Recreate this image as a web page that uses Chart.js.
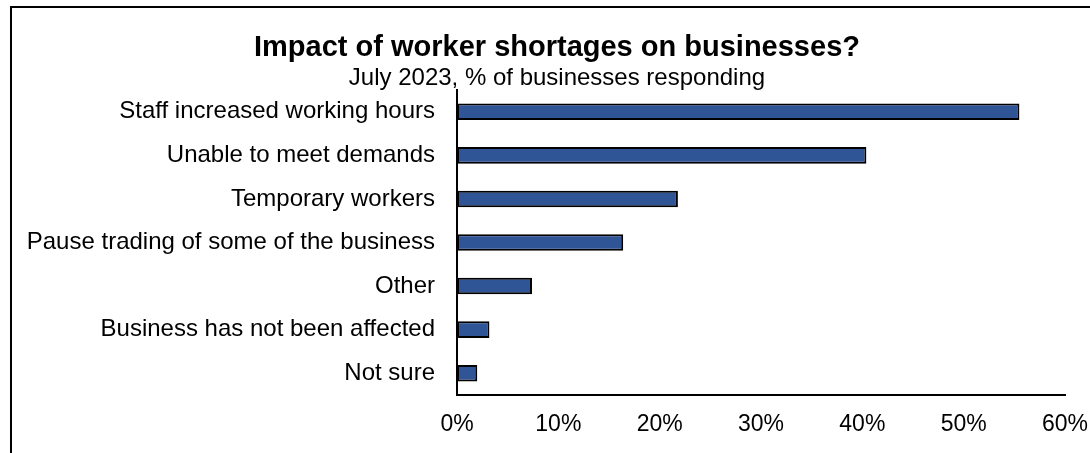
<!DOCTYPE html>
<html>
<head>
<meta charset="utf-8">
<title>Impact of worker shortages on businesses</title>
<script src="https://cdn.jsdelivr.net/npm/chart.js@4"></script>
<style>
  html, body { margin: 0; padding: 0; background: #fff; }
  #wrap { position: relative; width: 1090px; height: 453px; }
</style>
</head>
<body>
<div id="wrap"><canvas id="grafica"></canvas></div>
<script>
const categorias = [
    'Staff increased working hours',
    'Unable to meet demands',
    'Temporary workers',
    'Pause trading of some of the business',
    'Other',
    'Business has not been affected',
    'Not sure'
];
const porcentajes = [55.5, 40.4, 21.8, 16.4, 7.4, 3.2, 2.0];
const ejeMax = 60;
const ejePaso = 10;

const titulo = 'Impact of worker shortages on businesses?';
const subtitulo = 'July 2023, % of businesses responding';

const fuente = '"Liberation Sans", Arial, sans-serif';

// marco negro arriba y a la izquierda + titulos centrados sobre el bloque
const marco = {
    id: 'marco',
    beforeDraw(chart) {
        const ctx = chart.ctx;
        ctx.save();
        ctx.strokeStyle = '#000';
        ctx.lineWidth = 2;
        ctx.beginPath();
        ctx.moveTo(11, chart.height);
        ctx.lineTo(11, 7);
        ctx.lineTo(chart.width, 7);
        ctx.stroke();

        ctx.fillStyle = '#000';
        ctx.textAlign = 'center';
        ctx.textBaseline = 'alphabetic';
        ctx.font = 'bold 29px ' + fuente;
        ctx.fillText(titulo, 557, 56);
        ctx.font = '24px ' + fuente;
        ctx.fillText(subtitulo, 557, 85);
        ctx.restore();
    }
};

const ctx = document.getElementById('grafica').getContext('2d');
new Chart(ctx, {
    type: 'bar',
    data: {
        labels: categorias,
        datasets: [{
            data: porcentajes,
            backgroundColor: '#2F5597',
            borderColor: '#000',
            borderWidth: 2,
            borderSkipped: false,
            barPercentage: 0.38,
            categoryPercentage: 1
        }]
    },
    options: {
        indexAxis: 'y',
        responsive: true,
        maintainAspectRatio: false,
        animation: false,
        layout: { padding: { left: 12, right: 25, top: 90, bottom: 0 } },
        plugins: {
            legend: { display: false },
            tooltip: { enabled: false }
        },
        scales: {
            x: {
                min: 0,
                max: ejeMax,
                afterFit(scale) {
                    scale.height = 58;
                    scale.paddingRight = 0;
                },
                ticks: {
                    stepSize: ejePaso,
                    color: '#000',
                    padding: 16,
                    font: { family: fuente, size: 23 },
                    callback: v => v + '%'
                },
                grid: { display: false, drawTicks: false },
                border: { display: true, color: '#000', width: 2 }
            },
            y: {
                afterFit(scale) { scale.width = 445; },
                ticks: {
                    color: '#000',
                    padding: 22,
                    font: { family: fuente, size: 24 }
                },
                grid: { display: false, drawTicks: false },
                border: { display: true, color: '#000', width: 2 }
            }
        }
    },
    plugins: [marco]
});
</script>
</body>
</html>
